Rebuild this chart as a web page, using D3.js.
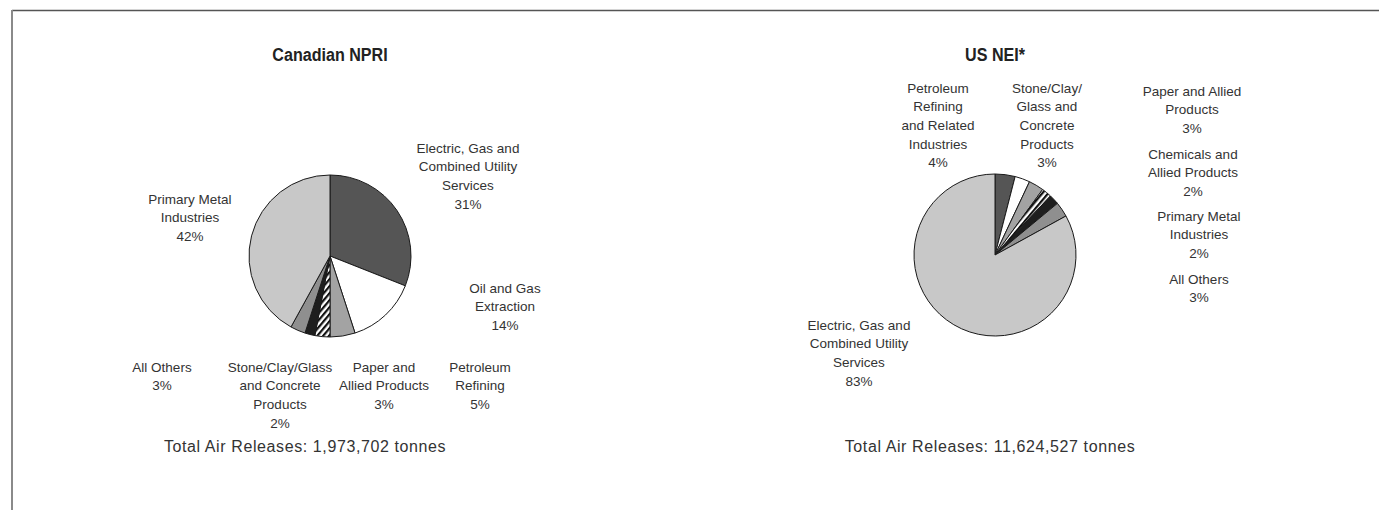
<!DOCTYPE html>
<html>
<head>
<meta charset="utf-8">
<script src="https://cdn.jsdelivr.net/npm/d3@7"></script>
<style>
  html, body { margin: 0; padding: 0; background: #fff; }
  svg { display: block; }
  .lbl { font-family: "Liberation Sans", Arial, sans-serif; font-size: 13.5px; fill: #333; }
  .ttl { font-family: "Liberation Sans", Arial, sans-serif; font-weight: bold; font-size: 18.5px; fill: #222; }
  .tot { font-family: "Liberation Sans", Arial, sans-serif; font-size: 16px; letter-spacing: 0.6px; fill: #333; }
</style>
</head>
<body>
<svg id="chart" width="1379" height="510"></svg>
<script>
// Canadian NPRI — shares of total air releases by sector (clockwise from 12 o'clock)
const caCategories = ["Electric, Gas and Combined Utility Services", "Oil and Gas Extraction", "Petroleum Refining",
  "Paper and Allied Products", "Stone/Clay/Glass and Concrete Products", "All Others", "Primary Metal Industries"];
const caValues = [31, 14, 5, 3, 2, 3, 42];
const caFills = ["#555555", "#ffffff", "#a3a3a3", "hatch", "#1e1e1e", "#8f8f8f", "#c8c8c8"];

// US NEI — shares of total air releases by sector (clockwise from 12 o'clock)
const usCategories = ["Petroleum Refining and Related Industries", "Stone/Clay/Glass and Concrete Products",
  "Paper and Allied Products", "Chemicals and Allied Products", "Primary Metal Industries", "All Others",
  "Electric, Gas and Combined Utility Services"];
const usValues = [4, 3, 3, 2, 2, 3, 83];
const usFills = ["#555555", "#ffffff", "#a3a3a3", "hatch", "#1e1e1e", "#8f8f8f", "#c8c8c8"];

// Label text lines per slice (same order as the categories)
const caLabels = [
  ["Electric, Gas and", "Combined Utility", "Services", "31%"],
  ["Oil and Gas", "Extraction", "14%"],
  ["Petroleum", "Refining", "5%"],
  ["Paper and", "Allied Products", "3%"],
  ["Stone/Clay/Glass", "and Concrete", "Products", "2%"],
  ["All Others", "3%"],
  ["Primary Metal", "Industries", "42%"]
];
const usLabels = [
  ["Petroleum", "Refining", "and Related", "Industries", "4%"],
  ["Stone/Clay/", "Glass and", "Concrete", "Products", "3%"],
  ["Paper and Allied", "Products", "3%"],
  ["Chemicals and", "Allied Products", "2%"],
  ["Primary Metal", "Industries", "2%"],
  ["All Others", "3%"],
  ["Electric, Gas and", "Combined Utility", "Services", "83%"]
];

const titles = ["Canadian NPRI", "US NEI*"];
const totals = ["Total Air Releases: 1,973,702 tonnes", "Total Air Releases: 11,624,527 tonnes"];

const svg = d3.select("#chart");

// diagonal hatch pattern
const defs = svg.append("defs");
const pat = defs.append("pattern")
  .attr("id", "hatch").attr("patternUnits", "userSpaceOnUse")
  .attr("width", 4.5).attr("height", 4.5)
  .attr("patternTransform", "rotate(40)");
pat.append("rect").attr("width", 4.5).attr("height", 4.5).attr("fill", "#fff");
pat.append("rect").attr("width", 2.2).attr("height", 4.5).attr("fill", "#111");

// frame
svg.append("line").attr("x1", 12).attr("x2", 1379).attr("y1", 10.5).attr("y2", 10.5)
  .attr("stroke", "#555").attr("stroke-width", 1.5);
svg.append("line").attr("x1", 12).attr("x2", 12).attr("y1", 10).attr("y2", 510)
  .attr("stroke", "#8a8a8a").attr("stroke-width", 2);

const R = 81;
const pie = d3.pie().sort(null).value(d => d);
const arc = d3.arc().innerRadius(0).outerRadius(R);

function drawPie(cx, cy, values, fills) {
  const g = svg.append("g").attr("transform", `translate(${cx},${cy})`);
  g.selectAll("path").data(pie(values)).join("path")
    .attr("d", arc)
    .attr("fill", (d, i) => fills[i] === "hatch" ? "url(#hatch)" : fills[i])
    .attr("stroke", "#1a1a1a").attr("stroke-width", 1).attr("stroke-linejoin", "round");
}

drawPie(330, 256, caValues, caFills);
drawPie(995, 255, usValues, usFills);

// label anchor points: centre x and first-line centre y
const caLabelPos = [[468, 148], [505, 288], [480, 367], [384, 367], [280, 367], [162, 367], [190, 199]];
const usLabelPos = [[938, 88], [1047, 88], [1192, 91], [1193, 154], [1199, 216], [1199, 279], [859, 325]];

function drawLabels(labels, pos) {
  labels.forEach((lines, i) => {
    const t = svg.append("text").attr("class", "lbl").attr("text-anchor", "middle")
      .attr("x", pos[i][0]).attr("y", pos[i][1]);
    lines.forEach((s, j) => {
      t.append("tspan").attr("x", pos[i][0]).attr("dy", j === 0 ? "0.35em" : 18.6).text(s);
    });
  });
}
drawLabels(caLabels, caLabelPos);
drawLabels(usLabels, usLabelPos);

// titles (condensed horizontally) and totals
[[330, 61], [995, 61]].forEach((p, i) => {
  svg.append("text").attr("class", "ttl").attr("text-anchor", "middle")
    .attr("transform", `translate(${p[0]},${p[1]}) scale(0.87,1)`)
    .text(titles[i]);
});
[[305, 446], [990, 446]].forEach((p, i) => {
  svg.append("text").attr("class", "tot").attr("text-anchor", "middle")
    .attr("x", p[0]).attr("y", p[1]).attr("dy", "0.35em").text(totals[i]);
});
</script>
</body>
</html>
